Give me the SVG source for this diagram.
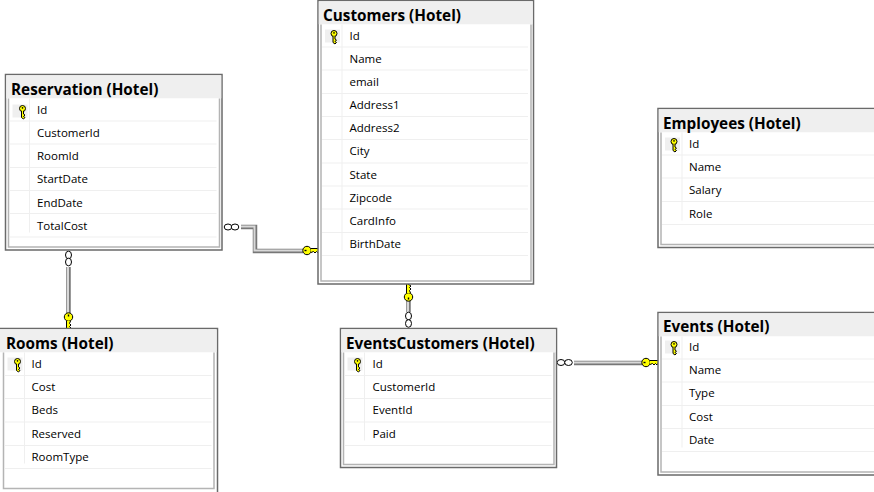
<svg xmlns="http://www.w3.org/2000/svg" width="874" height="492" viewBox="0 0 874 492">
<style>
text{font-family:"Open Sans","Liberation Sans",sans-serif;fill:#000}
.t{font-size:15.300px;font-weight:700}
.c{font-size:11.500px}
.b{fill:#fff;stroke:#6a6a6a;stroke-width:1.5}
.h{fill:#efefef}
.i{fill:none;stroke:#b4b4b4;stroke-width:1.5}
.r{stroke:#efefef;stroke-width:1;fill:none}
.kb{fill:#efefef}
.o{stroke:#777;stroke-width:4.5;fill:none}
.m{stroke:#d8d8d8;stroke-width:2;fill:none}
.n{fill:#fff;stroke:#000;stroke-width:1}
.ky{fill:#ff0;stroke:#000;stroke-width:1}
</style>
<defs>
<g id="key"><circle cx="0" cy="-3" r="3" class="ky"/><path d="M-1-.5V6L1 7.500 2.500 6 1 5 2.500 3.500 1 2.500V-.5" class="ky"/><circle cx="0" cy="-3.600" r=".8" fill="#000"/></g>
<g id="hk"><circle cx="0" cy="0" r="4.200" class="ky"/><path d="M4-2H14L11 2.500 9.500 1 8 2.500 6.500 1 4 2" class="ky"/><rect x="-2.500" y="-.7" width="2" height="1.400" fill="#000"/></g>
<g id="vk"><circle cx="0" cy="0" r="4.200" class="ky"/><path d="M-2 4V14L2.500 11 1 9.500 2.500 8 1 6.500 2 4" class="ky"/><rect x="-.7" y="-2.500" width="1.400" height="2" fill="#000"/></g>
</defs>
<g id="connectors">
<path d="M241 227H255V251H303" class="o"/><path d="M241 226.500H254.500V250.500H303" class="m"/>
<ellipse cx="228" cy="227" rx="3.800" ry="3" class="n"/><ellipse cx="235" cy="227" rx="3.800" ry="3" class="n"/><use href="#hk" x="307" y="250.500"/>
<path d="M68.500 267V314" class="o"/><path d="M68 267V314" class="m"/>
<ellipse cx="68.500" cy="255" rx="3" ry="3.800" class="n"/><ellipse cx="68.500" cy="262" rx="3" ry="3.800" class="n"/><use href="#vk" x="68.500" y="317"/>
<path d="M408.500 300V312" class="o"/><path d="M408 300V312" class="m"/>
<ellipse cx="408.500" cy="316" rx="3" ry="3.800" class="n"/><ellipse cx="408.500" cy="323.500" rx="3" ry="3.800" class="n"/><use href="#vk" transform="translate(408.500 297) scale(1 -1)"/>
<path d="M574 363H643" class="o"/><path d="M574 362.500H643" class="m"/>
<ellipse cx="561" cy="362.500" rx="3.800" ry="3" class="n"/><ellipse cx="568.500" cy="362.500" rx="3.800" ry="3" class="n"/><use href="#hk" x="646" y="362.500"/>
</g>
<g id="reservation" transform="translate(5.500 74.500)">
<rect class="b" width="216.500" height="175.500"/><rect class="h" x=".75" y=".75" width="215" height="23"/>
<path class="i" d="M3 24V172.500H214V24"/>
<path class="r" d="M4 46.500H211M4 69.500H211M4 93H211M4 116H211M4 139H211M4 162.500H211M24 24V158"/>
<rect class="kb" x="7" y="30" width="15" height="13"/><use href="#key" x="17" y="37"/>
<text class="t" x="5.500" y="20">Reservation (Hotel)</text>
<text class="c" x="31.500" y="39.500">Id</text><text class="c" x="31.500" y="62.500">CustomerId</text><text class="c" x="31.500" y="85.500">RoomId</text><text class="c" x="31.500" y="108.500">StartDate</text><text class="c" x="31.500" y="132">EndDate</text><text class="c" x="31.500" y="155">TotalCost</text>
</g>
<g id="customers" transform="translate(318 .5)">
<rect class="b" width="215.500" height="283.500"/><rect class="h" x=".75" y=".75" width="214" height="23"/>
<path class="i" d="M3 24V280.500H213V24"/>
<path class="r" d="M4 46.500H210M4 69.500H210M4 93H210M4 116H210M4 139H210M4 162.500H210M4 185.500H210M4 208.500H210M4 232H210M4 255H210M24 24V250"/>
<rect class="kb" x="7" y="29" width="15" height="13"/><use href="#key" x="16" y="36"/>
<text class="t" x="5" y="20">Customers (Hotel)</text>
<text class="c" x="31.500" y="39">Id</text><text class="c" x="31.500" y="62">Name</text><text class="c" x="31.500" y="85">email</text><text class="c" x="31.500" y="108">Address1</text><text class="c" x="31.500" y="131">Address2</text><text class="c" x="31.500" y="154">City</text><text class="c" x="31.500" y="178">State</text><text class="c" x="31.500" y="201">Zipcode</text><text class="c" x="31.500" y="224">CardInfo</text><text class="c" x="31.500" y="247">BirthDate</text>
</g>
<g id="employees" transform="translate(658 108.500)">
<rect class="b" width="218" height="139"/><rect class="h" x=".75" y=".75" width="217" height="23"/>
<path class="i" d="M3 24V136H218"/>
<path class="r" d="M4 46.500H216M4 69.500H216M4 93H216M4 116H216M24 24V112"/>
<rect class="kb" x="7" y="29" width="15" height="13"/><use href="#key" x="16" y="36"/>
<text class="t" x="5" y="20">Employees (Hotel)</text>
<text class="c" x="31" y="39">Id</text><text class="c" x="31" y="62">Name</text><text class="c" x="31" y="85">Salary</text><text class="c" x="31" y="109">Role</text>
</g>
<g id="rooms" transform="translate(.5 328.500)">
<rect class="b" x="-2" width="219" height="166"/><rect class="h" x="-1" y=".75" width="217" height="23"/>
<path class="i" d="M3 24V160H213.500V24"/>
<path class="r" d="M4 47H211M4 70H211M4 93.500H211M4 117H211M4 140H211M24 24V135"/>
<rect class="kb" x="7" y="29" width="15" height="13"/><use href="#key" x="17" y="36"/>
<text class="t" x="5.500" y="20">Rooms (Hotel)</text>
<text class="c" x="31" y="39">Id</text><text class="c" x="31" y="62">Cost</text><text class="c" x="31" y="85">Beds</text><text class="c" x="31" y="109">Reserved</text><text class="c" x="31" y="132">RoomType</text>
</g>
<g id="eventscustomers" transform="translate(340.500 328.500)">
<rect class="b" width="216" height="139"/><rect class="h" x=".75" y=".75" width="214.500" height="23"/>
<path class="i" d="M3 24V136H213.500V24"/>
<path class="r" d="M4 47H211M4 70H211M4 93.500H211M4 117H211M24 24V112"/>
<rect class="kb" x="7" y="29" width="15" height="13"/><use href="#key" x="17" y="36"/>
<text class="t" x="5.500" y="20">EventsCustomers (Hotel)</text>
<text class="c" x="32" y="39">Id</text><text class="c" x="32" y="62">CustomerId</text><text class="c" x="32" y="85">EventId</text><text class="c" x="32" y="109">Paid</text>
</g>
<g id="events" transform="translate(658 312.500)">
<rect class="b" width="218" height="162.500"/><rect class="h" x=".75" y=".75" width="217" height="23"/>
<path class="i" d="M3 24V159.500H218"/>
<path class="r" d="M4 46.500H216M4 69.500H216M4 93H216M4 116H216M4 139H216M24 24V135"/>
<rect class="kb" x="7" y="28" width="15" height="13"/><use href="#key" x="16" y="35"/>
<text class="t" x="5" y="19">Events (Hotel)</text>
<text class="c" x="31" y="38">Id</text><text class="c" x="31" y="61">Name</text><text class="c" x="31" y="84">Type</text><text class="c" x="31" y="108">Cost</text><text class="c" x="31" y="131">Date</text>
</g>
</svg>
